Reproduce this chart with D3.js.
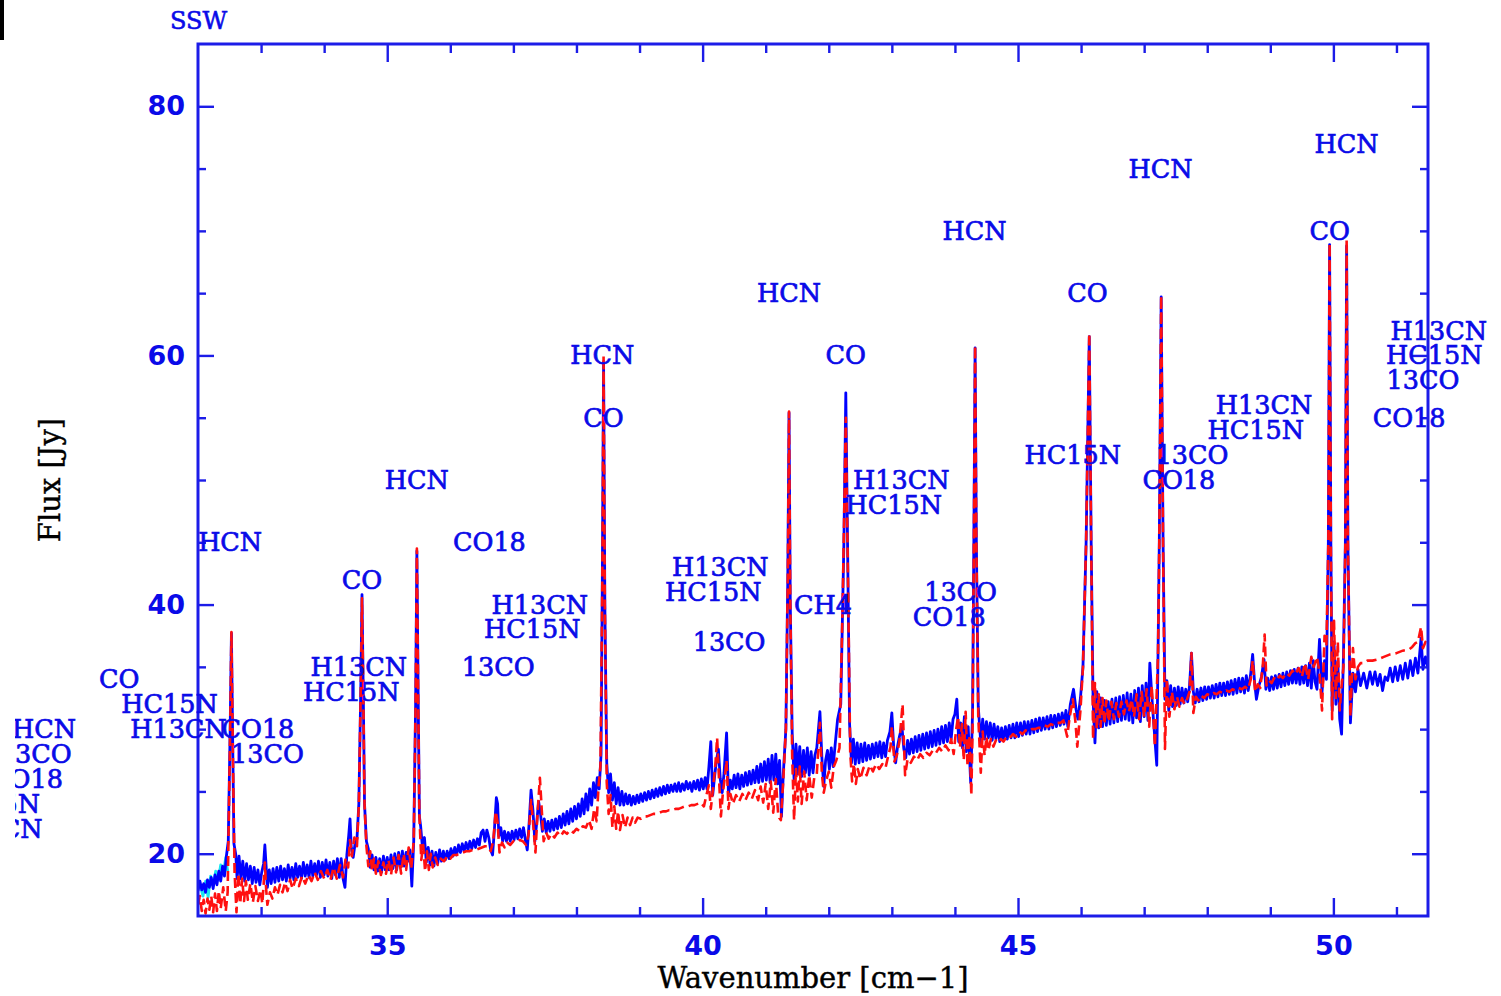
<!DOCTYPE html>
<html>
<head>
<meta charset="utf-8">
<script src="https://cdn.jsdelivr.net/npm/d3@7"></script>
<style>
  html, body { margin: 0; padding: 0; background: #ffffff; }
  svg { display: block; }
</style>
</head>
<body>
<svg id="chart" width="1501" height="996"></svg>
<script>
// SPIRE SSW spectrum: observed flux (blue), model (red, dashed), short extra segment (cyan)
const observed = [
  [32.00,17.0],[32.03,17.8],[32.06,17.1],[32.09,17.6],[32.12,16.9],[32.15,17.9],[32.18,17.3],[32.21,18.1],[32.24,17.2],[32.27,18.3],
  [32.30,17.5],[32.33,18.6],[32.36,17.8],[32.39,19.0],[32.42,18.2],[32.45,19.8],[32.48,21.0],[32.51,30.0],[32.53,37.7],[32.55,29.0],
  [32.57,20.8],[32.60,19.9],[32.62,18.0],[32.65,19.8],[32.68,18.0],[32.71,19.4],[32.74,17.8],[32.77,19.2],[32.80,17.9],[32.83,19.0],
  [32.86,17.6],[32.89,18.9],[32.92,17.7],[32.95,18.7],[32.98,17.5],[33.01,18.5],[33.04,19.2],[33.06,20.7],[33.08,19.0],[33.10,17.3],
  [33.13,18.7],[33.16,17.6],[33.19,18.8],[33.22,17.7],[33.25,18.9],[33.28,17.8],[33.31,19.0],[33.34,17.9],[33.37,18.8],[33.40,17.8],
  [33.43,19.1],[33.46,18.0],[33.49,18.9],[33.52,17.9],[33.55,19.2],[33.58,18.1],[33.61,19.0],[33.64,18.0],[33.67,19.3],[33.70,18.2],
  [33.73,19.1],[33.76,18.1],[33.79,19.4],[33.82,18.2],[33.85,19.2],[33.88,18.3],[33.91,19.4],[33.94,18.1],[33.97,19.3],[34.00,18.3],
  [34.03,19.5],[34.06,18.2],[34.09,19.3],[34.12,18.0],[34.15,19.4],[34.18,18.3],[34.21,19.6],[34.24,18.1],[34.27,19.6],[34.30,18.0],
  [34.33,17.3],[34.36,19.9],[34.39,21.5],[34.41,22.8],[34.43,20.5],[34.46,19.7],[34.49,20.8],[34.52,21.2],[34.55,24.0],[34.58,33.0],
  [34.60,40.8],[34.62,33.0],[34.64,24.0],[34.67,21.0],[34.70,20.4],[34.73,18.9],[34.76,19.9],[34.79,18.7],[34.82,19.7],[34.85,18.6],
  [34.88,19.6],[34.91,18.5],[34.94,19.8],[34.97,18.7],[35.00,19.7],[35.03,18.7],[35.06,19.9],[35.09,18.8],[35.12,20.0],[35.15,18.7],
  [35.18,20.1],[35.21,18.9],[35.24,20.2],[35.27,19.0],[35.30,20.1],[35.33,19.4],[35.36,20.3],[35.39,17.4],[35.42,21.0],[35.45,32.0],
  [35.47,44.3],[35.49,33.0],[35.51,23.0],[35.53,22.2],[35.56,20.4],[35.59,21.3],[35.62,19.3],[35.65,20.5],[35.68,19.1],[35.71,20.2],
  [35.74,19.0],[35.77,20.1],[35.80,19.2],[35.83,20.3],[35.86,19.4],[35.89,20.2],[35.92,19.5],[35.95,20.2],[35.98,19.6],[36.01,20.4],
  [36.04,19.8],[36.07,20.5],[36.10,19.9],[36.13,20.7],[36.16,20.1],[36.19,20.8],[36.22,20.2],[36.25,20.9],[36.28,20.3],[36.31,21.0],
  [36.34,20.4],[36.37,21.1],[36.40,20.5],[36.43,21.2],[36.46,20.7],[36.49,21.7],[36.52,21.9],[36.55,21.0],[36.58,21.9],[36.61,21.3],
  [36.64,20.3],[36.67,19.9],[36.70,22.0],[36.73,24.5],[36.75,24.0],[36.77,21.4],[36.80,22.1],[36.83,21.0],[36.86,21.8],[36.89,21.0],
  [36.92,21.7],[36.95,21.0],[36.98,21.8],[37.01,21.1],[37.04,21.9],[37.07,21.2],[37.10,22.0],[37.13,21.3],[37.16,22.1],[37.19,21.1],
  [37.22,20.3],[37.25,22.5],[37.28,25.1],[37.31,23.5],[37.34,21.0],[37.37,22.5],[37.40,24.2],[37.43,23.2],[37.46,21.8],[37.49,22.8],
  [37.52,21.7],[37.55,22.6],[37.58,21.8],[37.61,22.7],[37.64,21.9],[37.67,22.8],[37.70,22.0],[37.73,23.0],[37.76,22.1],[37.79,23.2],
  [37.82,22.3],[37.85,23.4],[37.88,22.4],[37.91,23.6],[37.94,22.6],[37.97,23.8],[38.00,22.8],[38.03,24.0],[38.06,23.0],[38.09,24.4],
  [38.12,23.2],[38.15,24.8],[38.18,23.5],[38.21,25.2],[38.24,23.9],[38.27,25.7],[38.30,24.5],[38.33,26.1],[38.36,25.2],[38.39,28.0],
  [38.41,42.0],[38.43,59.5],[38.45,40.0],[38.48,27.3],[38.51,24.9],[38.54,26.4],[38.57,24.3],[38.60,25.7],[38.63,24.0],[38.66,25.3],
  [38.69,23.9],[38.72,25.0],[38.75,23.9],[38.78,24.8],[38.81,24.0],[38.84,24.7],[38.87,23.9],[38.90,24.6],[38.93,24.0],[38.96,24.7],
  [38.99,24.1],[39.02,24.8],[39.05,24.2],[39.08,24.9],[39.11,24.3],[39.14,25.0],[39.17,24.4],[39.20,25.1],[39.23,24.5],[39.26,25.2],
  [39.29,24.6],[39.32,25.3],[39.35,24.7],[39.38,25.4],[39.41,24.8],[39.44,25.5],[39.47,24.9],[39.50,25.5],[39.53,25.0],[39.56,25.6],
  [39.59,25.0],[39.62,25.7],[39.65,25.0],[39.68,25.6],[39.71,25.1],[39.74,25.8],[39.77,25.2],[39.80,25.7],[39.83,25.0],[39.86,25.8],
  [39.89,25.2],[39.92,25.9],[39.95,25.1],[39.98,26.0],[40.01,25.2],[40.04,26.1],[40.07,25.2],[40.10,27.0],[40.13,29.0],[40.16,24.7],
  [40.19,26.2],[40.22,27.5],[40.25,28.4],[40.28,26.0],[40.31,24.9],[40.34,26.5],[40.38,29.7],[40.41,24.7],[40.44,25.9],[40.47,25.2],
  [40.50,26.3],[40.53,25.3],[40.56,26.4],[40.59,25.2],[40.62,26.3],[40.65,25.4],[40.68,26.5],[40.71,25.5],[40.74,26.6],[40.77,25.6],
  [40.80,26.7],[40.83,25.7],[40.86,27.0],[40.89,25.7],[40.92,27.2],[40.95,25.8],[40.98,27.4],[41.01,25.9],[41.04,27.6],[41.07,25.7],
  [41.10,27.9],[41.13,25.9],[41.16,28.0],[41.19,25.6],[41.22,27.5],[41.25,23.0],[41.28,26.5],[41.32,30.0],[41.35,42.0],[41.37,55.4],
  [41.39,40.0],[41.42,29.7],[41.45,26.0],[41.48,28.8],[41.51,26.4],[41.54,28.6],[41.57,26.2],[41.60,28.3],[41.63,26.5],[41.66,28.5],
  [41.69,26.3],[41.72,28.2],[41.75,26.5],[41.78,27.9],[41.81,28.5],[41.86,31.4],[41.89,27.8],[41.92,25.4],[41.95,27.5],[41.98,28.3],
  [42.01,26.8],[42.04,28.5],[42.07,27.0],[42.10,28.7],[42.14,30.8],[42.19,32.0],[42.24,45.0],[42.27,57.0],[42.30,44.0],[42.33,30.4],
  [42.36,27.3],[42.39,29.2],[42.42,27.2],[42.45,28.9],[42.48,27.3],[42.51,28.8],[42.54,27.4],[42.57,28.9],[42.60,27.5],[42.63,28.7],
  [42.66,27.6],[42.69,28.8],[42.72,27.7],[42.75,28.9],[42.78,27.8],[42.81,29.0],[42.84,27.7],[42.87,28.9],[42.90,27.8],[42.93,29.1],
  [42.97,29.8],[43.00,31.3],[43.03,28.5],[43.06,27.3],[43.09,28.6],[43.12,29.4],[43.16,30.2],[43.19,28.4],[43.22,27.7],[43.25,29.1],
  [43.28,28.0],[43.31,29.2],[43.34,28.1],[43.37,29.4],[43.40,28.2],[43.43,29.5],[43.46,28.3],[43.49,29.6],[43.52,28.4],[43.55,29.7],
  [43.58,28.5],[43.61,29.8],[43.64,28.6],[43.67,29.9],[43.70,28.7],[43.73,30.0],[43.76,28.8],[43.79,30.2],[43.82,28.9],[43.85,30.3],
  [43.88,29.0],[43.91,30.5],[43.94,29.2],[43.97,30.8],[44.00,31.2],[44.03,32.4],[44.06,29.0],[44.09,30.5],[44.12,28.5],[44.15,31.0],
  [44.18,28.2],[44.21,30.2],[44.25,25.7],[44.28,31.5],[44.30,45.0],[44.32,60.6],[44.34,45.0],[44.37,31.8],[44.41,28.9],[44.44,30.8],
  [44.47,29.2],[44.50,30.6],[44.53,29.3],[44.56,30.5],[44.59,29.1],[44.62,30.4],[44.65,29.2],[44.68,30.2],[44.71,29.0],[44.74,30.1],
  [44.77,29.1],[44.80,30.2],[44.83,29.2],[44.86,30.3],[44.89,29.3],[44.92,30.4],[44.95,29.3],[44.98,30.5],[45.01,29.4],[45.04,30.5],
  [45.07,29.5],[45.10,30.6],[45.13,29.6],[45.16,30.6],[45.19,29.6],[45.22,30.7],[45.25,29.7],[45.28,30.8],[45.31,29.8],[45.34,30.9],
  [45.37,29.9],[45.40,30.9],[45.43,30.0],[45.46,31.0],[45.49,30.0],[45.52,31.1],[45.55,30.1],[45.58,31.1],[45.61,30.2],[45.64,31.2],
  [45.67,30.3],[45.70,31.3],[45.73,30.4],[45.76,31.5],[45.79,30.2],[45.83,32.0],[45.88,33.2],[45.92,31.6],[45.95,30.8],[45.99,32.5],
  [46.03,35.0],[46.08,45.0],[46.13,61.5],[46.16,45.0],[46.19,32.4],[46.22,28.9],[46.25,33.0],[46.28,30.1],[46.31,32.5],[46.34,30.2],
  [46.37,32.3],[46.40,30.3],[46.43,32.2],[46.46,30.4],[46.49,32.4],[46.52,30.5],[46.55,32.5],[46.58,30.6],[46.61,32.6],[46.64,30.7],
  [46.67,32.7],[46.70,30.8],[46.73,32.9],[46.76,30.7],[46.79,32.8],[46.82,30.5],[46.85,33.1],[46.88,30.9],[46.91,33.3],[46.94,30.6],
  [46.97,33.5],[47.00,31.0],[47.03,33.7],[47.06,30.7],[47.09,35.3],[47.13,32.0],[47.20,27.1],[47.24,45.0],[47.27,64.7],[47.30,45.0],
  [47.33,32.4],[47.36,33.9],[47.39,31.5],[47.42,33.5],[47.45,31.8],[47.48,33.3],[47.51,31.9],[47.54,33.4],[47.57,32.0],[47.60,33.3],
  [47.63,32.1],[47.66,33.2],[47.69,32.2],[47.72,33.5],[47.75,36.1],[47.78,33.0],[47.81,32.1],[47.84,33.2],[47.87,32.2],[47.90,33.3],
  [47.93,32.3],[47.96,33.4],[47.99,32.4],[48.02,33.4],[48.05,32.5],[48.08,33.5],[48.11,32.5],[48.14,33.6],[48.17,32.6],[48.20,33.7],
  [48.23,32.7],[48.26,33.7],[48.29,32.7],[48.32,33.8],[48.35,32.8],[48.38,33.9],[48.41,32.8],[48.44,34.0],[48.47,32.9],[48.50,34.1],
  [48.53,33.0],[48.56,34.1],[48.59,32.9],[48.62,34.3],[48.65,33.1],[48.69,34.5],[48.72,36.0],[48.75,33.8],[48.78,32.4],[48.82,33.5],
  [48.86,34.2],[48.90,35.6],[48.93,33.2],[48.96,34.1],[48.99,33.1],[49.02,34.2],[49.05,33.2],[49.08,34.3],[49.11,33.3],[49.14,34.4],
  [49.17,33.4],[49.20,34.5],[49.23,33.5],[49.26,34.6],[49.29,33.6],[49.32,34.7],[49.35,33.7],[49.38,34.8],[49.41,33.7],[49.44,34.9],
  [49.47,33.6],[49.50,35.0],[49.53,33.7],[49.56,35.1],[49.59,33.5],[49.62,35.3],[49.65,33.3],[49.68,35.5],[49.71,33.8],[49.74,33.2],
  [49.78,37.2],[49.82,33.0],[49.86,35.5],[49.89,34.0],[49.92,45.0],[49.94,68.9],[49.96,45.0],[49.98,31.5],[50.01,37.0],[50.04,32.0],
  [50.07,35.5],[50.10,30.8],[50.13,29.6],[50.16,36.0],[50.19,45.0],[50.21,68.8],[50.23,45.0],[50.27,30.5],[50.31,34.5],[50.35,33.0],
  [50.39,34.8],[50.43,33.5],[50.48,34.5],[50.53,33.3],[50.58,34.6],[50.62,33.6],[50.66,34.6],[50.70,33.5],[50.74,34.4],[50.78,33.1],
  [50.82,34.2],[50.86,33.9],[50.90,34.9],[50.94,33.8],[50.98,35.0],[51.02,33.9],[51.06,35.1],[51.10,34.0],[51.14,35.3],[51.18,34.1],
  [51.22,35.5],[51.26,34.3],[51.30,35.7],[51.34,34.5],[51.39,37.3],[51.42,34.8],[51.46,35.8],[51.50,34.9]
];

const model = [
  [32.00,15.9],[32.03,16.6],[32.06,15.4],[32.09,16.3],[32.12,15.2],[32.15,16.4],[32.18,15.5],[32.21,16.6],[32.24,15.3],[32.27,16.8],
  [32.30,15.4],[32.33,17.0],[32.36,15.6],[32.40,17.3],[32.44,15.4],[32.47,16.9],[32.51,30.0],[32.53,37.8],[32.55,29.0],[32.58,18.5],
  [32.61,15.3],[32.64,18.4],[32.67,16.0],[32.70,18.0],[32.73,16.2],[32.76,17.8],[32.79,16.3],[32.83,17.6],[32.87,16.1],[32.91,17.4],
  [32.95,16.2],[32.99,17.1],[33.02,16.0],[33.04,17.5],[33.06,19.3],[33.08,17.2],[33.10,15.9],[33.14,16.9],[33.18,16.4],[33.22,17.3],
  [33.26,16.7],[33.30,17.5],[33.34,16.9],[33.38,17.7],[33.42,17.0],[33.46,17.9],[33.50,17.2],[33.55,18.0],[33.60,17.4],[33.65,18.2],
  [33.70,17.6],[33.75,18.3],[33.80,17.8],[33.85,18.5],[33.90,17.9],[33.95,18.6],[34.00,18.0],[34.05,18.7],[34.10,17.9],[34.15,18.9],
  [34.20,18.0],[34.25,19.1],[34.30,18.1],[34.34,19.6],[34.38,18.9],[34.41,21.1],[34.44,19.8],[34.48,21.3],[34.52,20.6],[34.55,24.0],
  [34.58,33.0],[34.60,40.5],[34.62,33.0],[34.64,24.0],[34.67,20.6],[34.70,19.0],[34.73,20.2],[34.76,18.6],[34.79,19.6],[34.82,18.4],
  [34.86,19.4],[34.90,18.3],[34.94,19.3],[34.98,18.4],[35.02,19.5],[35.06,18.3],[35.10,19.7],[35.14,18.5],[35.18,19.9],[35.22,18.4],
  [35.26,20.0],[35.30,18.7],[35.34,20.5],[35.38,18.8],[35.42,21.0],[35.45,32.0],[35.47,44.5],[35.49,33.0],[35.51,23.0],[35.54,19.5],
  [35.57,20.7],[35.60,18.6],[35.63,20.2],[35.66,18.7],[35.69,20.0],[35.72,18.9],[35.76,19.7],[35.80,19.1],[35.85,19.6],[35.90,19.4],
  [35.95,19.8],[36.00,19.6],[36.05,19.9],[36.10,19.9],[36.15,20.0],[36.20,20.1],[36.25,20.2],[36.30,20.2],[36.35,20.3],[36.40,20.3],
  [36.45,20.4],[36.50,20.5],[36.55,20.6],[36.60,20.6],[36.64,20.2],[36.68,21.0],[36.72,23.4],[36.75,22.5],[36.78,20.1],[36.82,20.9],
  [36.86,20.5],[36.90,20.9],[36.95,20.7],[37.00,21.0],[37.05,20.9],[37.10,21.1],[37.15,21.0],[37.20,20.7],[37.24,21.5],[37.28,24.3],
  [37.32,22.0],[37.35,20.1],[37.38,23.0],[37.42,26.1],[37.45,23.5],[37.48,21.0],[37.52,21.7],[37.56,21.2],[37.60,21.6],[37.65,21.3],
  [37.70,21.7],[37.75,21.4],[37.80,21.8],[37.85,21.6],[37.90,21.9],[37.95,21.7],[38.00,22.0],[38.05,21.8],[38.10,22.2],[38.15,22.1],
  [38.20,22.7],[38.24,22.0],[38.28,23.6],[38.32,22.6],[38.35,25.4],[38.38,27.0],[38.41,42.0],[38.43,60.0],[38.45,40.0],[38.48,25.7],
  [38.51,23.2],[38.54,24.7],[38.57,22.1],[38.60,23.8],[38.63,22.0],[38.66,23.4],[38.69,21.9],[38.73,23.1],[38.77,22.1],[38.81,22.9],
  [38.85,22.3],[38.89,22.9],[38.93,22.5],[38.97,22.9],[39.02,22.8],[39.07,23.0],[39.12,23.0],[39.17,23.1],[39.22,23.2],[39.27,23.2],
  [39.32,23.3],[39.37,23.4],[39.42,23.4],[39.47,23.5],[39.52,23.5],[39.57,23.6],[39.62,23.6],[39.67,23.7],[39.72,23.8],[39.77,23.8],
  [39.82,23.9],[39.87,23.9],[39.92,24.0],[39.97,24.1],[40.02,23.8],[40.06,24.7],[40.10,25.5],[40.13,23.6],[40.16,25.0],[40.20,27.0],
  [40.23,29.3],[40.26,26.0],[40.29,23.0],[40.32,24.8],[40.36,26.5],[40.38,27.5],[40.41,23.6],[40.44,24.8],[40.48,24.0],[40.53,24.7],
  [40.58,24.2],[40.63,24.8],[40.68,24.3],[40.73,24.9],[40.78,24.4],[40.83,25.1],[40.88,24.3],[40.92,25.4],[40.96,24.1],[41.00,25.6],
  [41.04,23.6],[41.08,25.8],[41.12,23.3],[41.16,26.0],[41.20,23.0],[41.24,22.7],[41.28,26.0],[41.32,30.0],[41.35,42.0],[41.37,55.5],
  [41.39,40.0],[41.42,27.8],[41.45,22.7],[41.48,26.8],[41.51,24.2],[41.54,27.0],[41.57,24.0],[41.61,26.6],[41.65,24.3],[41.69,26.3],
  [41.73,24.5],[41.77,26.1],[41.81,26.4],[41.86,30.5],[41.89,26.5],[41.92,24.9],[41.96,25.9],[42.00,26.6],[42.04,25.3],[42.08,27.0],
  [42.12,27.5],[42.17,28.5],[42.22,40.0],[42.27,55.0],[42.31,40.0],[42.34,28.1],[42.37,25.8],[42.40,27.2],[42.43,25.6],[42.46,26.8],
  [42.50,26.0],[42.55,26.9],[42.60,26.3],[42.65,27.1],[42.70,26.6],[42.75,27.2],[42.80,26.8],[42.85,27.2],[42.90,26.9],[42.94,27.8],
  [42.98,28.6],[43.00,30.2],[43.04,27.4],[43.08,27.9],[43.12,29.0],[43.17,32.0],[43.21,26.3],[43.25,27.6],[43.30,27.3],[43.35,27.8],
  [43.40,27.5],[43.45,28.0],[43.50,27.7],[43.55,28.1],[43.60,27.9],[43.65,28.3],[43.70,28.1],[43.75,28.5],[43.80,28.2],[43.85,28.7],
  [43.90,28.3],[43.94,29.2],[43.98,28.0],[44.02,30.0],[44.05,31.0],[44.08,28.5],[44.11,30.4],[44.14,27.5],[44.17,31.4],[44.20,27.0],
  [44.23,29.5],[44.26,24.7],[44.28,30.0],[44.30,45.0],[44.32,60.8],[44.34,45.0],[44.37,31.0],[44.41,26.5],[44.44,29.8],[44.47,27.9],
  [44.50,29.4],[44.53,28.3],[44.57,29.2],[44.61,28.6],[44.65,29.1],[44.69,28.9],[44.73,29.2],[44.77,29.0],[44.82,29.4],[44.87,29.3],
  [44.92,29.6],[44.97,29.4],[45.02,29.8],[45.07,29.6],[45.12,29.9],[45.17,29.8],[45.22,30.0],[45.27,30.0],[45.32,30.1],[45.37,30.1],
  [45.42,30.3],[45.47,30.2],[45.52,30.4],[45.57,30.3],[45.62,30.5],[45.67,30.5],[45.72,30.7],[45.78,29.4],[45.82,31.0],[45.87,32.4],
  [45.91,30.6],[45.94,28.6],[45.99,31.5],[46.03,35.0],[46.08,45.0],[46.13,61.8],[46.16,45.0],[46.19,29.2],[46.22,33.7],[46.25,30.0],
  [46.28,32.8],[46.31,30.2],[46.34,32.5],[46.37,30.4],[46.40,32.3],[46.44,30.6],[46.48,32.2],[46.52,30.8],[46.56,32.1],[46.60,31.0],
  [46.64,32.2],[46.68,31.2],[46.72,32.3],[46.76,31.4],[46.80,32.4],[46.84,31.0],[46.88,32.8],[46.92,30.8],[46.96,33.0],[47.00,31.0],
  [47.04,33.2],[47.08,30.2],[47.12,33.5],[47.17,28.6],[47.22,36.0],[47.24,45.0],[47.27,64.8],[47.30,45.0],[47.33,28.4],[47.36,34.0],
  [47.40,31.0],[47.44,33.0],[47.48,31.6],[47.52,32.6],[47.56,31.8],[47.60,32.5],[47.64,32.0],[47.68,32.4],[47.72,33.0],[47.75,36.1],
  [47.78,31.3],[47.82,32.6],[47.86,32.3],[47.90,32.7],[47.95,32.5],[48.00,32.8],[48.05,32.7],[48.10,32.9],[48.15,32.8],[48.20,33.0],
  [48.25,32.9],[48.30,33.1],[48.35,33.0],[48.40,33.2],[48.45,33.1],[48.50,33.3],[48.55,33.2],[48.60,33.4],[48.65,33.2],[48.69,34.0],
  [48.72,35.5],[48.76,33.0],[48.80,33.6],[48.84,33.3],[48.88,35.0],[48.91,37.6],[48.94,33.5],[48.98,33.9],[49.02,33.7],[49.06,34.1],
  [49.10,33.9],[49.15,34.3],[49.20,34.1],[49.25,34.5],[49.30,34.3],[49.35,34.7],[49.40,34.4],[49.45,34.9],[49.50,34.2],[49.55,35.3],
  [49.60,34.0],[49.65,35.8],[49.69,35.0],[49.74,35.8],[49.78,34.5],[49.82,31.5],[49.86,37.5],[49.89,36.8],[49.92,45.0],[49.94,69.0],
  [49.96,45.0],[49.98,30.8],[50.01,38.7],[50.04,32.5],[50.07,37.0],[50.10,31.5],[50.13,33.5],[50.16,35.0],[50.19,45.0],[50.21,69.3],
  [50.23,45.0],[50.27,31.0],[50.31,36.5],[50.35,34.0],[50.39,35.0],[50.43,35.3],[50.48,35.3],[50.54,35.5],[50.62,35.5],[50.70,35.6],
  [50.80,35.8],[50.90,36.0],[51.00,36.1],[51.10,36.3],[51.20,36.4],[51.25,36.6],[51.30,36.9],[51.34,37.0],[51.39,38.2],[51.42,36.5],
  [51.46,37.0],[51.50,36.6]
];

const extra = [
  [32.00,17.9],[32.04,17.3],[32.08,16.6],[32.12,17.8],[32.16,16.5],[32.20,18.2],[32.24,17.4],[32.28,18.6],[32.32,17.9],[32.36,19.1],
  [32.40,18.4],[32.44,19.7],[32.47,18.6]
];

// Line identifications: species name, wavenumber and flux where the name is written
const labelNames = [
  "CO","HC15N","H13CN","CO18","13CO","HCN","CO","H13CN","HC15N","HCN",
  "CO18","13CO","H13CN","HC15N","HCN","CO","H13CN","HC15N","13CO","HCN",
  "CH4","CO","H13CN","HC15N","13CO","CO18","HCN","CO","HC15N","HCN",
  "13CO","CO18","H13CN","HC15N","HCN","CO","H13CN","HC15N","13CO","CO18",
  "HCN","13CO","CO18","HC15N","H13CN"
];
const labelWn = [
  30.75,31.55,31.69,32.95,33.10,32.51,34.60,34.55,34.43,35.47,
  36.62,36.76,37.42,37.30,38.41,38.43,40.28,40.17,40.42,41.37,
  41.91,42.27,43.15,43.03,44.09,43.91,44.31,46.10,45.87,47.26,
  47.76,47.55,48.90,48.77,50.21,49.94,51.67,51.60,51.42,51.20,
  29.56,29.42,29.28,28.73,28.77
];
const labelFlux = [
  34.0,32.0,30.0,30.0,28.0,45.0,42.0,35.0,33.0,50.0,
  45.0,35.0,40.0,38.0,60.0,55.0,43.0,41.0,37.0,65.0,
  40.0,60.0,50.0,48.0,41.0,39.0,70.0,65.0,52.0,75.0,
  52.0,50.0,56.0,54.0,77.0,70.0,62.0,60.0,58.0,55.0,
  30.0,28.0,26.0,24.0,22.0
];

const xMajor = [35, 40, 45, 50];
const xMinor = [33, 34, 36, 37, 38, 39, 41, 42, 43, 44, 46, 47, 48, 49, 51];
const yMajor = [20, 40, 60, 80];
const yMinor = [25, 30, 35, 45, 50, 55, 65, 70, 75];

const W = 1501, H = 996;
const plot = { left: 198, right: 1428, top: 44, bottom: 916 };
const axisBlue = "#1c1ce8";
const textBlue = "#0a0ae8";

const svg = d3.select("#chart");
svg.append("rect").attr("width", W).attr("height", H).attr("fill", "#fff");

const x = d3.scaleLinear().domain([32, 51.5]).range([plot.left, plot.right]);
const y = d3.scaleLinear().domain([15, 85]).range([plot.bottom, plot.top]);

const defs = svg.append("defs");
defs.append("clipPath").attr("id", "plotClip")
  .append("rect").attr("x", plot.left).attr("y", plot.top)
  .attr("width", plot.right - plot.left).attr("height", plot.bottom - plot.top);
defs.append("clipPath").attr("id", "pageClip")
  .append("rect").attr("x", 15).attr("y", 0).attr("width", W - 15).attr("height", H);

// small black marker at the upper-left corner
svg.append("rect").attr("x", 0).attr("y", 0).attr("width", 4).attr("height", 40).attr("fill", "#000");

const line = d3.line().x(d => x(d[0])).y(d => y(d[1]));
const spectra = svg.append("g").attr("clip-path", "url(#plotClip)");

spectra.append("path").datum(extra).attr("d", line)
  .attr("fill", "none").attr("stroke", "#19e6f0").attr("stroke-width", 2.8)
  .attr("stroke-linejoin", "round");
spectra.append("path").datum(observed).attr("d", line)
  .attr("fill", "none").attr("stroke", "#0000ff").attr("stroke-width", 2.8)
  .attr("stroke-linejoin", "round");
spectra.append("path").datum(model).attr("d", line)
  .attr("fill", "none").attr("stroke", "#ff1010").attr("stroke-width", 2.6)
  .attr("stroke-dasharray", "10,5").attr("stroke-linejoin", "round");

// frame with ticks on all four sides
function ticksOnly(axis) {
  return g => { g.call(axis); g.select(".domain").remove(); g.selectAll("line").attr("stroke", axisBlue).attr("stroke-width", 2.4); };
}
svg.append("g").attr("transform", `translate(0,${plot.bottom})`)
  .call(ticksOnly(d3.axisBottom(x).tickValues(xMinor).tickSize(-9).tickFormat("")));
svg.append("g").attr("transform", `translate(0,${plot.top})`)
  .call(ticksOnly(d3.axisTop(x).tickValues(xMinor).tickSize(-9).tickFormat("")));
svg.append("g").attr("transform", `translate(0,${plot.top})`)
  .call(ticksOnly(d3.axisTop(x).tickValues(xMajor).tickSize(-18).tickFormat("")));
svg.append("g").attr("transform", `translate(${plot.left},0)`)
  .call(ticksOnly(d3.axisLeft(y).tickValues(yMinor).tickSize(-8).tickFormat("")));
svg.append("g").attr("transform", `translate(${plot.right},0)`)
  .call(ticksOnly(d3.axisRight(y).tickValues(yMinor).tickSize(-8).tickFormat("")));
svg.append("g").attr("transform", `translate(${plot.right},0)`)
  .call(ticksOnly(d3.axisRight(y).tickValues(yMajor).tickSize(-16).tickFormat("")));

const tickFont = g => g.selectAll("text")
  .attr("fill", textBlue).style("font-family", "'DejaVu Sans', sans-serif")
  .style("font-weight", "bold").style("font-size", "27px");

svg.append("g").attr("transform", `translate(0,${plot.bottom})`)
  .call(ticksOnly(d3.axisBottom(x).tickValues(xMajor).tickSize(-18).tickPadding(20).tickFormat(d3.format("d"))))
  .call(tickFont);
svg.append("g").attr("transform", `translate(${plot.left},0)`)
  .call(ticksOnly(d3.axisLeft(y).tickValues(yMajor).tickSize(-16).tickPadding(13).tickFormat(d3.format("d"))))
  .call(tickFont);

svg.append("rect")
  .attr("x", plot.left).attr("y", plot.top)
  .attr("width", plot.right - plot.left).attr("height", plot.bottom - plot.top)
  .attr("fill", "none").attr("stroke", axisBlue).attr("stroke-width", 3);

// species labels
svg.append("g").attr("clip-path", "url(#pageClip)")
  .selectAll("text").data(labelNames).join("text")
  .attr("x", (d, i) => x(labelWn[i]))
  .attr("y", (d, i) => y(labelFlux[i]))
  .attr("text-anchor", "middle").attr("dominant-baseline", "central")
  .attr("fill", textBlue).attr("stroke", textBlue).attr("stroke-width", 0.7)
  .style("font-family", "'DejaVu Serif', serif").style("font-size", "25.5px")
  .text(d => d);

// titles
svg.append("text").attr("x", 170).attr("y", 21)
  .attr("dominant-baseline", "central").attr("fill", textBlue)
  .attr("stroke", textBlue).attr("stroke-width", 0.6)
  .style("font-family", "'DejaVu Serif', serif").style("font-size", "24px")
  .text("SSW");

svg.append("text")
  .attr("x", (plot.left + plot.right) / 2).attr("y", 978)
  .attr("text-anchor", "middle").attr("dominant-baseline", "central")
  .attr("fill", "#000").attr("stroke", "#000").attr("stroke-width", 0.4)
  .style("font-family", "'DejaVu Serif', serif").style("font-size", "29px")
  .text("Wavenumber [cm\u22121]");

svg.append("text")
  .attr("transform", `translate(50,${(plot.top + plot.bottom) / 2}) rotate(-90)`)
  .attr("text-anchor", "middle").attr("dominant-baseline", "central")
  .attr("fill", "#000").attr("stroke", "#000").attr("stroke-width", 0.4)
  .style("font-family", "'DejaVu Serif', serif").style("font-size", "29px")
  .text("Flux [Jy]");
</script>
</body>
</html>
